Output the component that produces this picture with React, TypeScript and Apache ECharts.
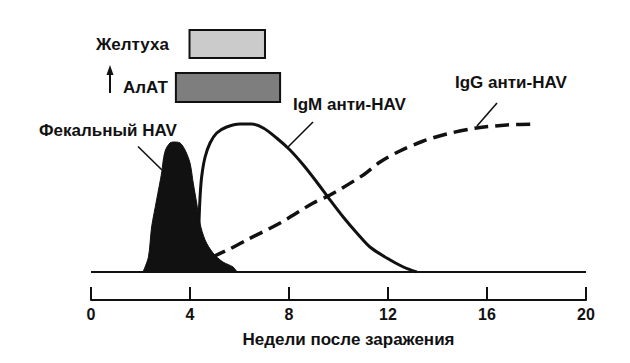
import React, { useEffect, useRef } from "react";
import * as echarts from "echarts";

// x: weeks after infection; y: relative level (arbitrary units, 0 = baseline)
const xTicks = [0, 4, 8, 12, 16, 20];

const fecalHAV: [number, number][] = [
  [2.1, 0], [2.32, 15], [2.45, 45], [2.65, 72], [2.86, 100], [2.92, 112], [3.01, 122],
  [3.19, 129], [3.35, 130], [3.6, 129], [3.8, 122], [4.0, 109], [4.13, 89], [4.27, 69],
  [4.4, 49], [4.61, 32], [4.93, 19], [5.33, 10], [5.74, 5], [5.9, 0],
];

const igM: [number, number][] = [
  [4.35, 40], [4.4, 72], [4.47, 95], [4.61, 115], [4.81, 129], [5.08, 139], [5.48, 145],
  [6.02, 148], [6.49, 148], [6.96, 144], [7.5, 134], [8.04, 122], [8.58, 107], [9.12, 90],
  [9.66, 72], [10.19, 55], [10.74, 39], [11.27, 25], [11.95, 14], [12.62, 5], [13.16, 0],
];

const igG: [number, number][] = [
  [4.9, 15], [5.6, 23], [6.29, 32], [7.64, 49], [8.98, 69], [9.66, 77], [11.0, 97],
  [11.68, 110], [12.48, 121], [13.43, 131], [14.37, 138], [15.58, 144], [16.8, 147], [18.0, 148],
];

const baseline: [number, number][] = [[0, 0], [20, 0]];

// bars: [startWeek, endWeek, bottomLevel, topLevel]
const jaundice = [3.98, 7.03, 214, 242];
const alt = [3.43, 7.64, 170, 199];

const FONT = "'Liberation Sans', Arial, Helvetica, sans-serif";

export default function App() {
  const ref = useRef<HTMLDivElement>(null);
  useEffect(() => {
    if (!ref.current) return;
    const chart = echarts.init(ref.current, null, { renderer: "svg" });
    const txt = (x: number, y: number, text: string, size = 17) => ({
      type: "text",
      x,
      y,
      style: {
        text,
        fill: "#111",
        font: `bold ${size}px ${FONT}`,
        textVerticalAlign: "middle",
        verticalAlign: "middle",
      },
    });
    const line = (x1: number, y1: number, x2: number, y2: number, w = 1.6) => ({
      type: "line",
      shape: { x1, y1, x2, y2 },
      style: { stroke: "#111", lineWidth: w },
    });
    chart.setOption({
      animation: false,
      backgroundColor: "#fff",
      grid: { left: 91, right: 44, top: 20, bottom: 91 },
      xAxis: {
        type: "value",
        min: 0,
        max: 20,
        interval: 4,
        offset: 28,
        axisLine: { show: true, onZero: false, lineStyle: { color: "#111", width: 2 } },
        axisTick: { show: true, inside: true, length: 13, lineStyle: { color: "#111", width: 2 } },
        axisLabel: {
          margin: 6,
          color: "#111",
          fontSize: 16,
          fontWeight: "bold",
          fontFamily: FONT,
          formatter: (v: number) => (xTicks.includes(v) ? String(v) : ""),
        },
        splitLine: { show: false },
        name: "Недели после заражения",
        nameLocation: "middle",
        nameGap: 31,
        nameTextStyle: {
          color: "#111",
          fontSize: 17,
          fontWeight: "bold",
          fontFamily: FONT,
          padding: [0, 0, 0, 20],
        },
      },
      yAxis: {
        type: "value",
        min: 0,
        max: 252,
        show: false,
        splitLine: { show: false },
      },
      series: [
        {
          type: "line",
          data: baseline,
          symbol: "none",
          lineStyle: { color: "#111", width: 2 },
          z: 1,
          markArea: {
            silent: true,
            data: [
              [
                { coord: [jaundice[0], jaundice[3]], itemStyle: { color: "#cbcbcb", borderColor: "#111", borderWidth: 2 } },
                { coord: [jaundice[1], jaundice[2]] },
              ],
              [
                { coord: [alt[0], alt[3]], itemStyle: { color: "#7e7e7e", borderColor: "#111", borderWidth: 2 } },
                { coord: [alt[1], alt[2]] },
              ],
            ],
          },
        },
        {
          type: "line",
          data: igM,
          symbol: "none",
          smooth: 0.3,
          lineStyle: { color: "#111", width: 3 },
          z: 2,
        },
        {
          type: "line",
          data: igG,
          symbol: "none",
          smooth: 0.3,
          lineStyle: { color: "#111", width: 3.5, type: [14, 7] },
          z: 2,
        },
        {
          type: "line",
          data: fecalHAV,
          symbol: "none",
          smooth: 0.3,
          lineStyle: { color: "#111", width: 1 },
          areaStyle: { color: "#111", opacity: 1 },
          z: 3,
        },
      ],
      graphic: [
        txt(96, 44, "Желтуха"),
        txt(123, 87, "АлАТ"),
        line(110, 93, 110, 72, 2),
        {
          type: "polygon",
          shape: { points: [[110, 65], [106.5, 75], [113.5, 75]] },
          style: { fill: "#111" },
        },
        txt(39, 130, "Фекальный HAV"),
        line(138, 146.5, 162, 170),
        txt(293, 104, "IgM анти-HAV"),
        line(313, 122, 288, 147),
        txt(455, 82, "IgG анти-HAV"),
        line(497, 103, 477, 126),
      ],
    });
    return () => chart.dispose();
  }, []);
  return (
    <div
      ref={ref}
      style={{ position: "absolute", left: 0, top: 0, width: 630, height: 363 }}
    />
  );
}
